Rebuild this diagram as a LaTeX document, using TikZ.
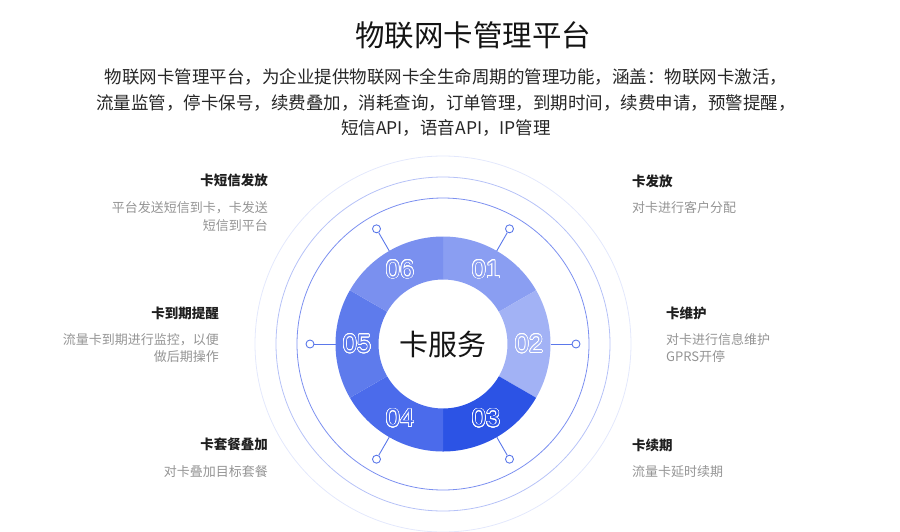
\documentclass[tikz,border=0pt]{standalone}
\usepackage{fontspec}
\setmainfont{Noto Sans CJK SC}
\newfontfamily\digitfont{Liberation Sans}
\usepackage{xcolor}
\usepackage{contour}
\contourlength{0.6pt}
\contournumber{24}
\usepackage{tikz}

\definecolor{segA}{HTML}{8A9EF2}
\definecolor{segB}{HTML}{A2B2F5}
\definecolor{segC}{HTML}{2C53E5}
\definecolor{segD}{HTML}{4B6BEB}
\definecolor{segE}{HTML}{5E7BEC}
\definecolor{segF}{HTML}{7A90EF}
\definecolor{pinblue}{HTML}{5B78EA}
\definecolor{ringA}{HTML}{7C90F0}
\definecolor{ringB}{HTML}{B6C2F7}
\definecolor{ringC}{HTML}{E3E8FC}

\begin{document}
\begin{tikzpicture}[
    x=1pt,y=-1pt,
    every node/.style={inner sep=0pt},
    head/.style={font=\fontsize{13.5}{16}\selectfont\bfseries,text=black!88},
    desc/.style={font=\fontsize{13}{17.5}\selectfont,text=black!42},
    pinend/.style={circle,draw=pinblue,fill=white,line width=0.9pt,minimum size=8pt},
    pinline/.style={pinblue,line width=0.9pt},
    digit/.style={font=\digitfont\fontsize{25.5}{26}\selectfont},
  ]
  \useasboundingbox (0,0) rectangle (900,531);
  \def\Rin{64.5}
  \def\Rout{107.5}
  \def\Rpin{133}
  \def\Rnum{86}

  % -- heading and intro --
  \node[font=\fontsize{29.5}{32}\selectfont,text=black!92] (title) at (473,35) {物联网卡管理平台};
  \node[align=center,font=\fontsize{17.5}{25.5}\selectfont,text=black!85] (intro) at (446,102.5)
       {物联网卡管理平台，为企业提供物联网卡全生命周期的管理功能，涵盖：物联网卡激活，\\
        流量监管，停卡保号，续费叠加，消耗查询，订单管理，到期时间，续费申请，预警提醒，\\
        短信API，语音API，IP管理};

  % -- the wheel --
  \node[font=\fontsize{29}{32}\selectfont,text=black!92] (hub) at (443,344) {卡服务};
  \begin{scope}[shift={(hub.center)},x=1pt,y=1pt]
    \draw[ringC,line width=0.8pt] (0,0) circle[radius=188];
    \draw[ringB,line width=0.8pt] (0,0) circle[radius=167];
    \draw[ringA,line width=0.8pt] (0,0) circle[radius=146];
    \foreach \a/\c/\n in {60/segA/01,0/segB/02,-60/segC/03,-120/segD/04,180/segE/05,120/segF/06}{%
      \fill[\c] (\a+30:\Rout) arc[start angle=\a+30,end angle=\a-30,radius=\Rout]
        -- (\a-30:\Rin) arc[start angle=\a-30,end angle=\a+30,radius=\Rin] -- cycle;
      \node[digit,text=\c] (num\n) at (\a:\Rnum) {\contour{white}{\n}};
      \coordinate (edge\n) at (\a:\Rout);
      \node[pinend] (pin\n) at (\a:\Rpin) {};
      \draw[pinline] (edge\n) -- (pin\n);
    }
  \end{scope}

  % -- left side --
  \node[head,anchor=east] (sms) at (268,180) {卡短信发放};
  \node[desc,anchor=east,align=right] (smsd) at (268,216.5) {平台发送短信到卡，卡发送\\短信到平台};
  \node[head,anchor=east] (exp) at (219,313) {卡到期提醒};
  \node[desc,anchor=east,align=right] (expd) at (219,348) {流量卡到期进行监控，以便\\做后期操作};
  \node[head,anchor=east] (pkg) at (268,444) {卡套餐叠加};
  \node[desc,anchor=east] (pkgd) at (268,472) {对卡叠加目标套餐};

  % -- right side --
  \node[head,anchor=west] (iss) at (632,181) {卡发放};
  \node[desc,anchor=west] (issd) at (632,208) {对卡进行客户分配};
  \node[head,anchor=west] (mnt) at (666,313) {卡维护};
  \node[desc,anchor=west,align=left] (mntd) at (666,348) {对卡进行信息维护\\GPRS开停};
  \node[head,anchor=west] (ren) at (632,445) {卡续期};
  \node[desc,anchor=west] (rend) at (632,472) {流量卡延时续期};
\end{tikzpicture}
\end{document}
